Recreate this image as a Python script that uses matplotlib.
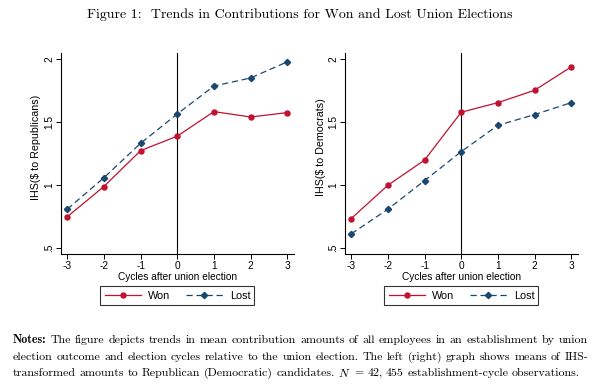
import matplotlib
matplotlib.use("Agg")
import matplotlib.pyplot as plt
from matplotlib.lines import Line2D

cycles = [-3, -2, -1, 0, 1, 2, 3]
rep_won = [0.75, 0.99, 1.275, 1.39, 1.585, 1.542, 1.577]
rep_lost = [0.81, 1.06, 1.333, 1.566, 1.788, 1.852, 1.98]
dem_won = [0.736, 1.0, 1.2, 1.58, 1.656, 1.754, 1.94]
dem_lost = [0.614, 0.81, 1.037, 1.267, 1.476, 1.561, 1.656]
ytick_vals = [0.5, 1, 1.5, 2]
ytick_labels = [".5", "1", "1.5", "2"]
xtick_labels = ["-3", "-2", "-1", "0", "1", "2", "3"]
series_labels = ["Won", "Lost"]
ylabels = ["IHS($ to Republicans)", "IHS($ to Democrats)"]
title = "Figure 1:  Trends in Contributions for Won and Lost Union Elections"
xlabel = "Cycles after union election"

RED = "#c1122f"
NAVY = "#1a476f"
SANS = ["Liberation Sans", "DejaVu Sans"]
plt.rcParams["mathtext.fontset"] = "cm"

fig = plt.figure(figsize=(6, 3.9), dpi=100)
fs = 7.3

panels = [
    (0.1017, rep_won, rep_lost, ylabels[0], -0.108),
    (0.575, dem_won, dem_lost, ylabels[1], -0.105),
]
for x0, won, lost, yl, ylx in panels:
    ax = fig.add_axes([x0, 0.349, 0.388, 0.515])
    ax.axvline(0, color="black", lw=0.8, zorder=1)
    ax.plot(cycles, won, color=RED, lw=0.9, marker="o", ms=3.6, zorder=3)
    ax.plot(cycles, lost, color=NAVY, lw=0.9, ls=(0, (5, 3)), marker="D",
            ms=3.2, zorder=3)
    ax.set_xlim(-3.17, 3.18)
    ax.set_ylim(0.455, 2.05)
    ax.set_xticks(cycles)
    ax.set_xticklabels(xtick_labels, fontsize=fs, family=SANS)
    ax.set_yticks(ytick_vals)
    ax.set_yticklabels(ytick_labels, fontsize=fs, family=SANS, rotation=90,
                       va="center")
    ax.spines["top"].set_visible(False)
    ax.spines["right"].set_visible(False)
    ax.spines["left"].set_linewidth(0.8)
    ax.spines["bottom"].set_linewidth(0.8)
    ax.tick_params(direction="out", length=3.5, width=0.7, pad=1.5)
    ax.set_xlabel(xlabel, fontsize=fs, family=SANS, labelpad=1)
    ax.set_ylabel(yl, fontsize=7.7, family=SANS, va="center")
    ax.yaxis.set_label_coords(ylx, 0.53)
    handles = [
        Line2D([], [], color=RED, lw=0.9, marker="o", ms=3.6),
        Line2D([], [], color=NAVY, lw=0.9, ls=(0, (5, 3)), marker="D", ms=3.2),
    ]
    leg = ax.legend(handles, series_labels, loc="upper center",
                    bbox_to_anchor=(0.5, -0.162), ncol=2, frameon=True,
                    fancybox=False, edgecolor="black",
                    prop={"family": SANS, "size": 7.8},
                    handlelength=3.4, columnspacing=1.4, borderpad=0.38,
                    handletextpad=0.65, borderaxespad=0.0)
    leg.get_frame().set_linewidth(0.8)

fig.text(0.5, 1 - 15 / 390, title, ha="center", va="center",
         family="cmr10", fontsize=10)

# Notes, justified between left and right margins
notes_lines = [
    [("Notes:", "cmb10")] + [(w, "cmr10") for w in
        "The figure depicts trends in mean contribution amounts of all employees in an establishment by union".split()],
    [(w, "cmr10") for w in
        "election outcome and election cycles relative to the union election. The left (right) graph shows means of IHS-".split()],
    [(w, "cmr10") for w in
        "transformed amounts to Republican (Democratic) candidates.".split()]
    + [(r"$N$", "cmr10"), ("=", "cmr10"), ("42,", "cmr10"), ("455", "cmr10")]
    + [(w, "cmr10") for w in "establishment-cycle observations.".split()],
]
line_y = [340, 357, 373]
left_px, right_px = 13, 588
nfs = 8.6
renderer = fig.canvas.get_renderer()
for i, (words, ypx) in enumerate(zip(notes_lines, line_y)):
    texts = []
    for w, fam in words:
        t = fig.text(0, 1 - ypx / 390, w, family=fam, fontsize=nfs,
                     va="center", ha="left")
        texts.append(t)
    widths = [t.get_window_extent(renderer).width for t in texts]
    total = sum(widths)
    gaps = len(texts) - 1
    if i < len(notes_lines) - 1:
        gap = (right_px - left_px - total) / gaps
    else:
        gap = 3.6
    x = left_px
    for t, wdt in zip(texts, widths):
        t.set_x(x / 600)
        x += wdt + gap

fig.savefig("out.png", dpi=100)
